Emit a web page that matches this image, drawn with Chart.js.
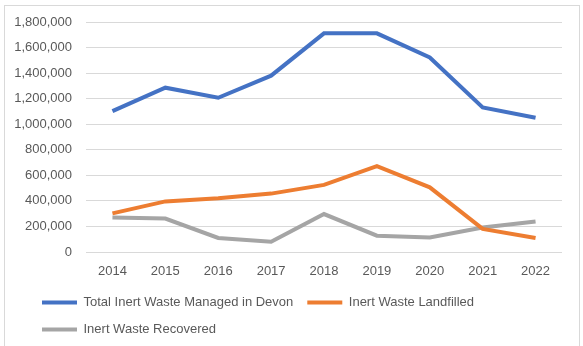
<!DOCTYPE html>
<html>
<head>
<meta charset="utf-8">
<script src="https://cdn.jsdelivr.net/npm/chart.js@4"></script>
<style>
  html, body { margin:0; padding:0; background:#fff; }
  #frame { position:absolute; left:4px; top:5px; width:576px; height:343px; box-sizing:border-box; border:1px solid #d9d9d9; }
  #wrap { position:absolute; left:0; top:0; width:583px; height:346px; }
</style>
</head>
<body>
<div id="frame"></div>
<div id="wrap"><canvas id="chart"></canvas></div>
<script>
const years = ["2014","2015","2016","2017","2018","2019","2020","2021","2022"];
const totalManaged = [1102000, 1286000, 1207000, 1380000, 1711000, 1711000, 1522000, 1131000, 1050000];
const landfilled = [302000, 396000, 420000, 457000, 525000, 672000, 506000, 181000, 110000];
const recovered = [270000, 262000, 110000, 81000, 297000, 128000, 113000, 191000, 239000];

const textColor = "#595959";
const gridColor = "#d9d9d9";
const font = { family:"'Liberation Sans', Arial, sans-serif", size:13 };

const mk = (label, data, color) => ({
  label, data, borderColor:color, backgroundColor:color,
  borderWidth:4, pointRadius:0, tension:0, fill:false
});

// nudge the legend to the right so it starts under the plot like the original
const legendShift = {
  id: "legendShift",
  afterLayout(chart) { if (chart.legend) { chart.legend.left += 14; } }
};

new Chart(document.getElementById("chart").getContext("2d"), {
  type: "line",
  data: {
    labels: years,
    datasets: [
      mk("Total Inert Waste Managed in Devon", totalManaged, "#4472c4"),
      mk("Inert Waste Landfilled", landfilled, "#ed7d31"),
      mk("Inert Waste Recovered", recovered, "#a5a5a5")
    ]
  },
  plugins: [legendShift],
  options: {
    responsive:true, maintainAspectRatio:false, animation:false,
    layout: { padding:{ left:14, right:21, top:22, bottom:0 } },
    plugins: {
      tooltip:{ enabled:false },
      legend: {
        position:"bottom", align:"start",
        labels: {
          color:textColor, font, boxWidth:35, boxHeight:4, padding:14,
          generateLabels: (chart) => Chart.defaults.plugins.legend.labels.generateLabels(chart).map(l => ({ ...l, lineWidth:0 }))
        }
      }
    },
    scales: {
      x: {
        offset:true,
        grid:{ display:false, drawTicks:false }, border:{ display:false },
        ticks:{ color:textColor, font, padding:12, maxRotation:0 },
        afterFit: (s) => { s.height = 30; }
      },
      y: {
        min:0, max:1800000,
        grid:{ color:gridColor, drawTicks:false }, border:{ display:false },
        ticks:{ color:textColor, font, padding:14, stepSize:200000, callback:(v) => v.toLocaleString("en-US") },
        afterFit: (s) => { s.width = 72; }
      }
    }
  }
});
</script>
</body>
</html>
